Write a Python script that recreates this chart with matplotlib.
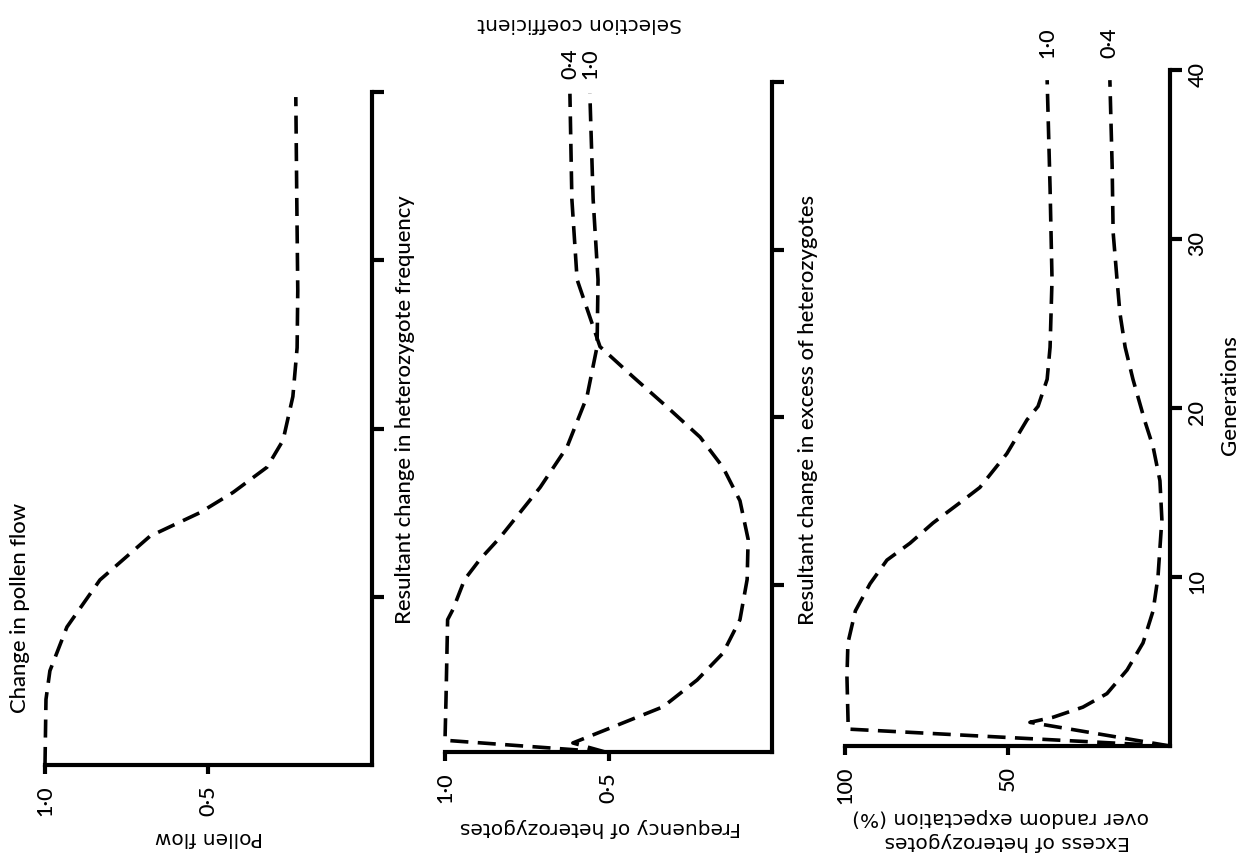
import matplotlib.pyplot as plt

W, H = 1241, 866

# change in pollen flow
gen_pollen = [0, 3.9, 5.6, 8.2, 11.0, 13.6, 15.0, 16.2, 17.7, 19.3, 21.9, 24.8, 28.2, 33.6, 39.7]
pollen = [1.0, 0.997, 0.985, 0.933, 0.832, 0.679, 0.526, 0.425, 0.321, 0.272, 0.242, 0.229, 0.227, 0.23, 0.233]

# frequency of heterozygotes, selection coefficient 1.0 and 0.4
gen_freq_10 = [0, 0.7, 3.1, 7.9, 8.5, 10.3, 11.5, 12.8, 15.8, 18.2, 21.2, 24.2, 28.2, 33.0, 39.3]
freq_10 = [0.51, 1.0, 0.997, 0.992, 0.976, 0.94, 0.893, 0.832, 0.709, 0.627, 0.566, 0.535, 0.532, 0.547, 0.557]
gen_freq_04 = [0, 0.54, 1.5, 2.7, 4.3, 5.9, 7.9, 10.3, 12.7, 15.0, 17.0, 18.8, 20.6, 22.4, 24.2, 28.2, 33.0, 39.3]
freq_04 = [0.51, 0.609, 0.486, 0.333, 0.229, 0.15, 0.098, 0.076, 0.073, 0.098, 0.15, 0.22, 0.321, 0.425, 0.526, 0.596, 0.612, 0.618]

# excess of heterozygotes over random expectation (%)
gen_exc_10 = [0, 1.0, 4.1, 6.1, 8.0, 9.6, 11.0, 12.0, 13.2, 14.4, 15.3, 17.3, 19.3, 20.1, 21.7, 23.6, 27.6, 33.0, 39.4]
exc_10 = [0, 99, 99.4, 99.1, 96.8, 92.3, 87.1, 80.0, 72.9, 64.6, 58.5, 50.2, 44.0, 40.6, 37.8, 36.9, 36.3, 36.9, 37.8]
gen_exc_04 = [0, 1.4, 1.7, 2.3, 3.1, 4.5, 6.1, 8.0, 10.0, 13.4, 15.7, 17.7, 19.2, 21.7, 23.6, 25.6, 27.6, 30.4, 34.3, 39.4]
exc_04 = [0, 43.1, 36.0, 26.8, 19.4, 13.2, 8.3, 5.2, 3.7, 2.5, 3.1, 5.2, 7.7, 11.4, 13.8, 15.4, 16.3, 17.5, 17.8, 18.5]

gen_ticks = [10, 20, 30, 40]
gen_labels = ['10', '20', '30', '40']

fig = plt.figure(figsize=(W / 100, H / 100), dpi=100)
fig.patch.set_facecolor('white')

LW = 2.6
DASH = (5, 2.6)
NUMFONT = dict(fontsize=15.5, family='Lato', fontweight='medium')


def px_axes(left, right, top, bottom):
    return fig.add_axes([left / W, 1 - bottom / H, (right - left) / W, (bottom - top) / H])


def style(ax, vmax, vticks, vlabels, show_gen):
    ax.set_xlim(vmax, 0)
    ax.set_ylim(0, 40)
    ax.patch.set_alpha(0)
    ax.spines['left'].set_visible(False)
    ax.spines['top'].set_visible(False)
    ax.spines['bottom'].set_linewidth(3)
    ax.spines['right'].set_linewidth(3)
    ax.yaxis.tick_right()
    ax.set_xticks(vticks)
    ax.set_xticklabels(vlabels, **NUMFONT)
    ax.set_yticks(gen_ticks)
    ax.set_yticklabels(gen_labels, **NUMFONT)
    ax.tick_params(axis='x', direction='out', length=6.5, width=3, pad=8, labelrotation=90)
    ax.tick_params(axis='y', direction='out', length=8.6, width=3, pad=4, labelrotation=90,
                   labelright=show_gen, labelleft=False, left=False)


def curve(ax, x, y):
    ax.plot(x, y, color='black', lw=LW, dashes=DASH, clip_on=False, dash_capstyle='butt')


ax1 = px_axes(45, 372, 92, 765)
style(ax1, 1.0, [1.0, 0.5], ['1·0', '0·5'], False)
curve(ax1, pollen, gen_pollen)

ax2 = px_axes(445, 772, 82, 752)
style(ax2, 1.0, [1.0, 0.5], ['1·0', '0·5'], False)
curve(ax2, freq_10, gen_freq_10)
curve(ax2, freq_04, gen_freq_04)
ax2.text(freq_04[-1], 41.1, '0·4', rotation=90, ha='center', va='center', **NUMFONT)
ax2.text(freq_10[-1], 41.1, '1·0', rotation=90, ha='center', va='center', **NUMFONT)

ax3 = px_axes(845, 1170, 70, 746)
style(ax3, 100, [100, 50], ['100', '50'], True)
curve(ax3, exc_10, gen_exc_10)
curve(ax3, exc_04, gen_exc_04)
ax3.text(exc_10[-1], 41.6, '1·0', rotation=90, ha='center', va='center', **NUMFONT)
ax3.text(exc_04[-1], 41.6, '0·4', rotation=90, ha='center', va='center', **NUMFONT)


def ftext(x, y, s, rot, size=15.8, fam='Lato', weight='medium'):
    fig.text(x / W, 1 - y / H, s, rotation=rot, ha='center', va='center',
             fontsize=size, family=fam, fontweight=weight)


ftext(20, 608, 'Change in pollen flow', 90)
ftext(405, 410, 'Resultant change in heterozygote frequency', 90)
ftext(808, 410, 'Resultant change in excess of heterozygotes', 90)
ftext(1230, 395, 'Generations', 90, 16)

ftext(209, 837, 'Pollen flow', 180, 14.5, 'DejaVu Sans', 'normal')
ftext(600, 827, 'Frequency of heterozygotes', 180, 14.5, 'DejaVu Sans', 'normal')
ftext(1001, 817, 'over random expectation (%)', 180, 14.5, 'DejaVu Sans', 'normal')
ftext(1007, 842, 'Excess of heterozygotes', 180, 14.5, 'DejaVu Sans', 'normal')
ftext(580, 23, 'Selection coefficient', 180, 14.5, 'DejaVu Sans', 'normal')

plt.savefig('out.png', dpi=100)
